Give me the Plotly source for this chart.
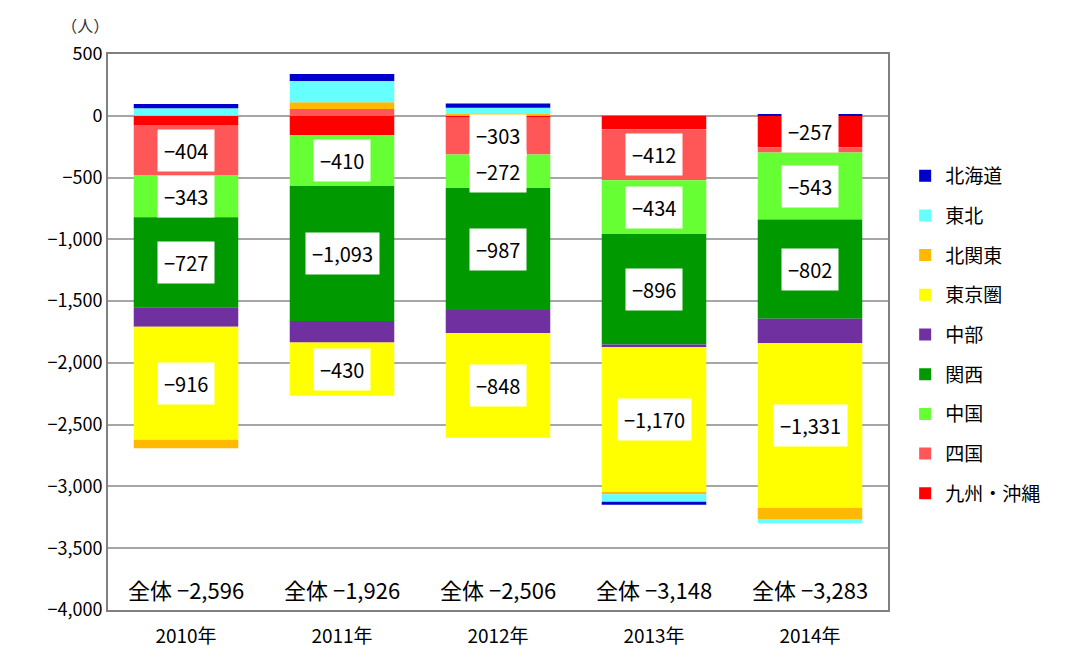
import plotly.graph_objects as go

years = ["2010年", "2011年", "2012年", "2013年", "2014年"]
totals = [-2596, -1926, -2506, -3148, -3283]

# series in stacking order (first = next to the axis)
regions = ["九州・沖縄", "四国", "中国", "関西", "中部", "東京圏", "北関東", "東北", "北海道"]
colors = ["#FF0000", "#FF5757", "#66FF33", "#009900", "#7030A0", "#FFFF00", "#FFB900", "#66FFFF", "#0000CC"]

kyushu   = [-75, -158, -10, -110, -257]
shikoku  = [-404, 55, -303, -412, -40]
chugoku  = [-343, -410, -272, -434, -543]
kansai   = [-727, -1093, -987, -896, -802]
chubu    = [-158, -174, -186, -22, -200]
tokyo    = [-916, -430, -848, -1170, -1331]
kitakanto = [-68, 54, 15, -19, -90]
tohoku   = [60, 172, 50, -60, -35]
hokkaido = [35, 58, 35, -25, 15]

values = [kyushu, shikoku, chugoku, kansai, chubu, tokyo, kitakanto, tohoku, hokkaido]

# which segments carry a value label
labeled = {
    "九州・沖縄": [False, False, False, False, True],
    "四国": [True, False, True, True, False],
    "中国": [True, True, True, True, True],
    "関西": [True, True, True, True, True],
    "東京圏": [True, True, True, True, True],
}

FONT = "Noto Sans CJK JP"

fig = go.Figure()
n = len(regions)
for k, (name, col, vals) in enumerate(zip(regions, colors, values)):
    fig.add_trace(go.Bar(x=years, y=vals, name=name, marker=dict(color=col, line=dict(width=0)),
                         legendgroup=name, legendrank=n - k, hoverinfo="skip"))

def fmt(v):
    s = f"{abs(v):,}"
    return ("−" if v < 0 else "") + s

annotations = []
for i, yr in enumerate(years):
    pos, neg = 0, 0
    for name, vals in zip(regions, values):
        v = vals[i]
        if v >= 0:
            lo, hi = pos, pos + v
            pos = hi
        else:
            hi, lo = neg, neg + v
            neg = lo
        if name in labeled and labeled[name][i]:
            annotations.append(dict(x=yr, y=(lo + hi) / 2, xref="x", yref="y", text=fmt(v),
                                    showarrow=False, bgcolor="white", borderpad=6,
                                    font=dict(size=20, color="black", family=FONT)))
    annotations.append(dict(x=yr, y=-3830, xref="x", yref="y", text="全体 " + fmt(totals[i]),
                            showarrow=False, font=dict(size=22, color="black", family=FONT)))

fig.update_layout(
    barmode="relative",
    bargap=0.33,
    width=1072, height=657,
    margin=dict(l=100, r=192, t=46, b=55),
    plot_bgcolor="white", paper_bgcolor="white",
    font=dict(family=FONT, size=17, color="black"),
    title=dict(text="（人）", x=0.072, y=0.972, xref="container", yref="container",
               xanchor="center", yanchor="middle",
               font=dict(size=16, color="#333333", family=FONT)),
    showlegend=True,
    legend=dict(x=1.022, y=0.815, xanchor="left", yanchor="top", traceorder="grouped",
                tracegroupgap=12, font=dict(size=19, color="black"), itemwidth=30),
    annotations=annotations,
)
fig.update_yaxes(range=[-4000, 500], dtick=500, tickformat=",d", showgrid=True, gridcolor="#A6A6A6",
                 gridwidth=1.5, zeroline=True, zerolinecolor="#A6A6A6", zerolinewidth=1.5,
                 showline=True, linecolor="#808080", linewidth=2, mirror=True, ticks="",
                 tickfont=dict(size=18, family=FONT))
fig.update_xaxes(showline=True, linecolor="#808080", linewidth=2, mirror=True, ticks="",
                 ticklabelstandoff=8, tickfont=dict(size=19, family=FONT))

fig.write_html("out.html")
